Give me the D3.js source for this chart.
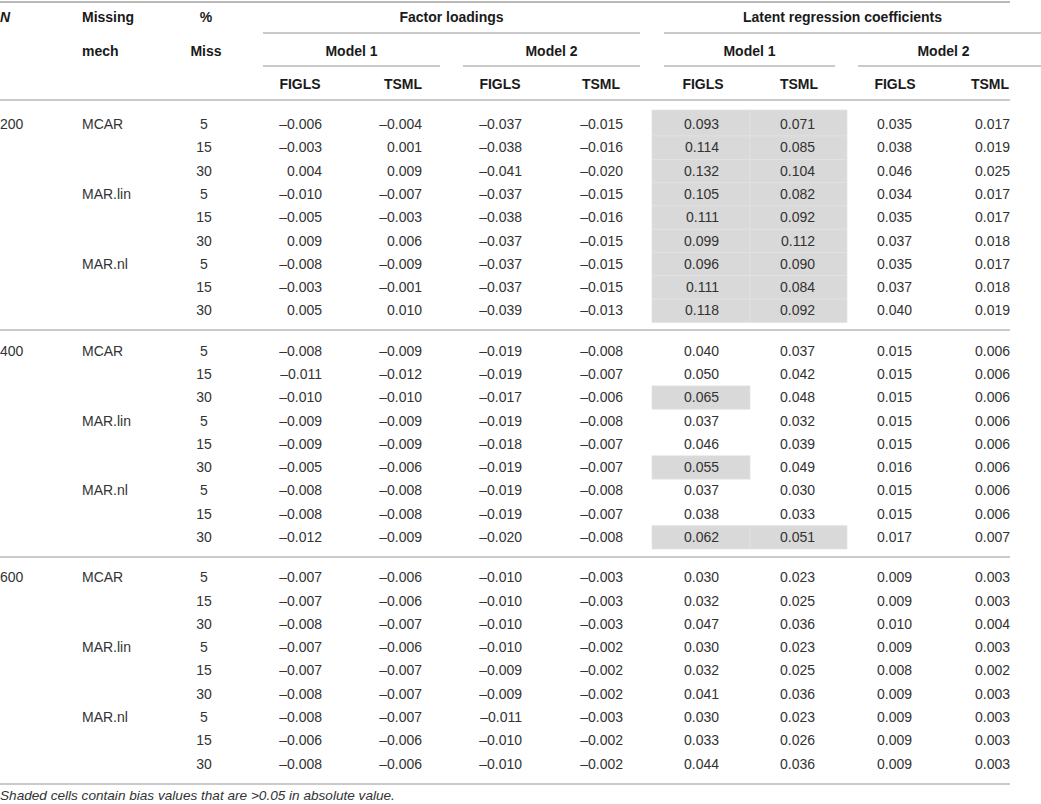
<!DOCTYPE html>
<html><head><meta charset="utf-8">
<script src="https://cdn.jsdelivr.net/npm/d3@7/dist/d3.min.js"></script>
<style>
html,body{margin:0;padding:0;background:#fff;}
svg{display:block;font-family:"Liberation Sans",Arial,Helvetica,sans-serif;}
</style></head>
<body><svg id="chart" width="1041" height="804"></svg>
<script>
// ---------- DATA ----------
const sampleSizes = ["200", "400", "600"];
const mechanisms = ["MCAR", "MAR.lin", "MAR.nl"];
const missPct = ["5", "15", "30"];
const blockLabels = ["Factor loadings", "Latent regression coefficients"];
const modelLabels = ["Model 1", "Model 2", "Model 1", "Model 2"];
const estimatorLabels = ["FIGLS", "TSML", "FIGLS", "TSML", "FIGLS", "TSML", "FIGLS", "TSML"];
const footnote = "Shaded cells contain bias values that are >0.05 in absolute value.";
const shadeThreshold = 0.05;

// 27 rows each: N=200 (MCAR 5,15,30; MAR.lin 5,15,30; MAR.nl 5,15,30), then N=400, N=600
const flM1FIGLS = [-0.006,-0.003,0.004,-0.010,-0.005,0.009,-0.008,-0.003,0.005,
  -0.008,-0.011,-0.010,-0.009,-0.009,-0.005,-0.008,-0.008,-0.012,
  -0.007,-0.007,-0.008,-0.007,-0.007,-0.008,-0.008,-0.006,-0.008];
const flM1TSML = [-0.004,0.001,0.009,-0.007,-0.003,0.006,-0.009,-0.001,0.010,
  -0.009,-0.012,-0.010,-0.009,-0.009,-0.006,-0.008,-0.008,-0.009,
  -0.006,-0.006,-0.007,-0.006,-0.007,-0.007,-0.007,-0.006,-0.006];
const flM2FIGLS = [-0.037,-0.038,-0.041,-0.037,-0.038,-0.037,-0.037,-0.037,-0.039,
  -0.019,-0.019,-0.017,-0.019,-0.018,-0.019,-0.019,-0.019,-0.020,
  -0.010,-0.010,-0.010,-0.010,-0.009,-0.009,-0.011,-0.010,-0.010];
const flM2TSML = [-0.015,-0.016,-0.020,-0.015,-0.016,-0.015,-0.015,-0.015,-0.013,
  -0.008,-0.007,-0.006,-0.008,-0.007,-0.007,-0.008,-0.007,-0.008,
  -0.003,-0.003,-0.003,-0.002,-0.002,-0.002,-0.003,-0.002,-0.002];
const lrM1FIGLS = [0.093,0.114,0.132,0.105,0.111,0.099,0.096,0.111,0.118,
  0.040,0.050,0.065,0.037,0.046,0.055,0.037,0.038,0.062,
  0.030,0.032,0.047,0.030,0.032,0.041,0.030,0.033,0.044];
const lrM1TSML = [0.071,0.085,0.104,0.082,0.092,0.112,0.090,0.084,0.092,
  0.037,0.042,0.048,0.032,0.039,0.049,0.030,0.033,0.051,
  0.023,0.025,0.036,0.023,0.025,0.036,0.023,0.026,0.036];
const lrM2FIGLS = [0.035,0.038,0.046,0.034,0.035,0.037,0.035,0.037,0.040,
  0.015,0.015,0.015,0.015,0.015,0.016,0.015,0.015,0.017,
  0.009,0.009,0.010,0.009,0.008,0.009,0.009,0.009,0.009];
const lrM2TSML = [0.017,0.019,0.025,0.017,0.017,0.018,0.017,0.018,0.019,
  0.006,0.006,0.006,0.006,0.006,0.006,0.006,0.006,0.007,
  0.003,0.003,0.004,0.003,0.002,0.003,0.003,0.003,0.003];

const valueColumns = [flM1FIGLS, flM1TSML, flM2FIGLS, flM2TSML, lrM1FIGLS, lrM1TSML, lrM2FIGLS, lrM2TSML];

// ---------- LAYOUT ----------
const svg = d3.select("#chart");
const lineColor = "#b9b9b9";
const headColor = "#1a1a1a";
const textColor = "#333";
const fs = 14;

const colRight = d3.scaleOrdinal().domain(d3.range(8)).range([322, 422, 522, 623, 719, 815, 912, 1010]);
const colHeadCenter = d3.scaleOrdinal().domain(d3.range(8)).range([300, 403, 500, 601, 703, 799, 895, 990]);
const modelSpan = [[263, 440], [463, 640], [664, 835], [858, 1041]];
const blockSpan = [[263, 640], [664, 1041]];

const headerY = d3.scalePoint().domain([0, 1, 2]).range([17, 84]);
const groupY = d3.scalePoint().domain(sampleSizes).range([124, 124 + 2 * 226.6]);
const rowY = d3.scaleLinear().domain([0, 8]).range([0, 8 * 23.3]);
const rowCenter = i => groupY(sampleSizes[Math.floor(i / 9)]) + rowY(i % 9);
const rowH = 23.3;

const fmt = d3.formatLocale({decimal: ".", thousands: ",", grouping: [3], currency: ["", ""], minus: "\u2013"}).format(".3f");

// shaded cells
const shadeG = svg.append("g");
valueColumns.forEach((col, c) => {
  col.forEach((v, i) => {
    if (Math.abs(v) > shadeThreshold + 1e-9) {
      const x0 = c % 2 === 0 ? colRight(c) - 67 : colRight(c) - 65;
      const x1 = c % 2 === 0 ? colRight(c) + 31 : colRight(c) + 32;
      const top = (i % 9 === 0) ? rowCenter(i) - 14 : rowCenter(i) - 11.3;
      const bot = rowCenter(i) + 12;
      shadeG.append("rect")
        .attr("x", x0).attr("y", top)
        .attr("width", x1 - x0).attr("height", bot - top)
        .attr("fill", "#d8d9d8").attr("stroke", "#e2e3e2").attr("stroke-width", 0.7);
    }
  });
});

// lines
function hline(x1, x2, y, w) {
  svg.append("line").attr("x1", x1).attr("x2", x2).attr("y1", y).attr("y2", y)
    .attr("stroke", lineColor).attr("stroke-width", w || 1.6);
}
hline(0, 1010, 2, 2);
blockSpan.forEach(s => hline(s[0], s[1], 33));
modelSpan.forEach(s => hline(s[0], s[1], 66));
hline(0, 1010, 100);
hline(0, 1010, 330);
hline(0, 1010, 557);
hline(0, 1010, 784);

// text helper
function txt(x, y, s, opts) {
  opts = opts || {};
  return svg.append("text").attr("x", x).attr("y", y + 5).text(s)
    .attr("font-size", opts.size || fs)
    .attr("font-weight", opts.bold ? "bold" : "normal")
    .attr("font-style", opts.italic ? "italic" : "normal")
    .attr("text-anchor", opts.anchor || "start")
    .attr("fill", opts.color || textColor);
}
const H = {bold: true, color: headColor};
txt(0, headerY(0), "N", {bold: true, italic: true, color: headColor});
txt(82, headerY(0), "Missing", H);
txt(82, headerY(1), "mech", H);
txt(206, headerY(0), "%", Object.assign({anchor: "middle"}, H));
txt(206, headerY(1), "Miss", Object.assign({anchor: "middle"}, H));
blockLabels.forEach((b, k) => txt((blockSpan[k][0] + blockSpan[k][1]) / 2 + (k ? -10 : 0), headerY(0), b, Object.assign({anchor: "middle"}, H)));
modelLabels.forEach((m, k) => txt((modelSpan[k][0] + modelSpan[k][1]) / 2 + (k === 3 ? -6 : 0), headerY(1), m, Object.assign({anchor: "middle"}, H)));
estimatorLabels.forEach((e, k) => txt(colHeadCenter(k), headerY(2), e, Object.assign({anchor: "middle"}, H)));

// row labels
d3.range(27).forEach(i => {
  const y = rowCenter(i);
  if (i % 9 === 0) txt(0, y, sampleSizes[i / 9]);
  if (i % 3 === 0) txt(82, y, mechanisms[(i % 9) / 3]);
  txt(204, y, missPct[i % 3], {anchor: "middle"});
});

// values
valueColumns.forEach((col, c) => {
  col.forEach((v, i) => txt(colRight(c), rowCenter(i), fmt(v), {anchor: "end"}));
});

// footnote
svg.append("text").attr("x", 0).attr("y", 800).text(footnote)
  .attr("font-size", 13.6).attr("font-style", "italic").attr("fill", textColor);
</script>
</body></html>
